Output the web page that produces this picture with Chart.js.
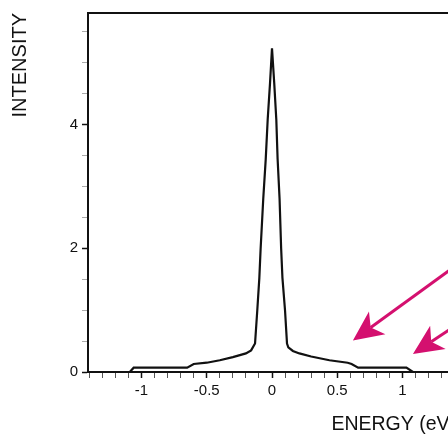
<!DOCTYPE html>
<html>
<head>
<meta charset="utf-8">
<script src="https://cdn.jsdelivr.net/npm/chart.js@4/dist/chart.umd.min.js"></script>
<style>
  html, body { margin: 0; padding: 0; background: #fff; }
  #wrap { width: 448px; height: 436px; overflow: hidden; position: relative; }
  canvas { display: block; }
</style>
</head>
<body>
<div id="wrap"><canvas id="spectrum" width="470" height="436"></canvas></div>
<script>
// photoemission spectrum, energy in eV
var energy = [-1.09, -1.06, -0.80, -0.65, -0.60, -0.50, -0.40, -0.30, -0.20, -0.16, -0.13,
  -0.113, -0.097, -0.087, -0.067, -0.048, -0.033, -0.015, 0.0,
  0.017, 0.033, 0.043, 0.058, 0.07, 0.08, 0.10, 0.115,
  0.125, 0.16, 0.21, 0.30, 0.44, 0.58, 0.61, 0.66, 0.85, 1.03, 1.08];
var intensity = [0, 0.07, 0.07, 0.07, 0.13, 0.15, 0.19, 0.24, 0.30, 0.35, 0.46,
  0.99, 1.52, 2.0, 2.8, 3.44, 4.08, 4.67, 5.23,
  4.67, 4.08, 3.44, 2.8, 2.0, 1.52, 0.99, 0.46,
  0.40, 0.34, 0.30, 0.25, 0.19, 0.15, 0.13, 0.07, 0.07, 0.07, 0];

var xMajorTicks = [-1, -0.5, 0, 0.5, 1];
var yMajorTicks = [0, 2, 4];

// arrows pointing at the shoulders: [tipX, tipY, tailX, tailY]
var arrows = [
  [0.62, 0.51, 1.60, 2.01],
  [1.08, 0.29, 1.60, 1.02]
];

var points = energy.map(function(e, i) {
  return { x: e, y: intensity[i] };
});

function isMajor(list, v) {
  return list.some(function(m) { return Math.abs(m - v) < 1e-6; });
}

var font = "'Liberation Sans', Arial, Helvetica, sans-serif";

var framePlugin = {
  id: 'frame',
  afterDraw: function(chart) {
    var ctx = chart.ctx;
    var area = chart.chartArea;
    var xs = chart.scales.x, ys = chart.scales.y;
    ctx.save();
    // top frame line
    ctx.strokeStyle = '#111';
    ctx.lineWidth = 2;
    ctx.beginPath();
    ctx.moveTo(area.left - 1, area.top);
    ctx.lineTo(chart.width, area.top);
    ctx.stroke();

    // magenta arrows
    ctx.strokeStyle = '#d4106f';
    ctx.fillStyle = '#d4106f';
    ctx.lineWidth = 3;
    arrows.forEach(function(a) {
      var tx = xs.getPixelForValue(a[0]), ty = ys.getPixelForValue(a[1]);
      var sx = xs.getPixelForValue(a[2]), sy = ys.getPixelForValue(a[3]);
      var ang = Math.atan2(ty - sy, tx - sx);
      var headLen = 30, headW = 14, notch = 22;
      var bx = tx - Math.cos(ang) * notch, by = ty - Math.sin(ang) * notch;
      ctx.beginPath();
      ctx.moveTo(sx, sy);
      ctx.lineTo(bx, by);
      ctx.stroke();
      var cx = tx - Math.cos(ang) * headLen, cy = ty - Math.sin(ang) * headLen;
      var px = -Math.sin(ang) * headW, py = Math.cos(ang) * headW;
      ctx.beginPath();
      ctx.moveTo(tx, ty);
      ctx.lineTo(cx + px, cy + py);
      ctx.lineTo(bx, by);
      ctx.lineTo(cx - px, cy - py);
      ctx.closePath();
      ctx.fill();
    });
    ctx.restore();
  }
};

new Chart(document.getElementById('spectrum'), {
  type: 'line',
  data: {
    datasets: [{
      data: points,
      borderColor: '#111',
      borderWidth: 2.2,
      pointRadius: 0,
      tension: 0,
      fill: false
    }]
  },
  options: {
    responsive: false,
    animation: false,
    layout: { padding: { left: 0, right: 14, top: 8, bottom: 0 } },
    plugins: { legend: { display: false }, tooltip: { enabled: false } },
    scales: {
      x: {
        type: 'linear',
        min: -1.41,
        max: 1.41,
        border: { display: true, color: '#111', width: 2 },
        grid: {
          drawOnChartArea: false,
          drawTicks: true,
          tickLength: 6,
          tickColor: function(c) { return isMajor(xMajorTicks, c.tick.value) ? '#111' : '#555'; },
          tickWidth: function(c) { return isMajor(xMajorTicks, c.tick.value) ? 1.5 : 1; }
        },
        ticks: {
          stepSize: 0.1,
          autoSkip: false,
          maxRotation: 0,
          includeBounds: false,
          padding: 4,
          color: '#111',
          font: { family: font, size: 15 },
          callback: function(v) {
            if (!isMajor(xMajorTicks, v)) return '';
            return String(Math.round(v * 10) / 10);
          }
        },
        title: {
          display: true,
          text: 'ENERGY (eV)',
          align: 'end',
          color: '#111',
          padding: { top: 0, bottom: 0 },
          font: { family: font, size: 19.5 }
        },
        afterFit: function(scale) { scale.height = 64; }
      },
      y: {
        type: 'linear',
        min: 0,
        max: 5.8,
        border: { display: true, color: '#111', width: 2 },
        grid: {
          drawOnChartArea: false,
          drawTicks: true,
          tickLength: 6,
          tickColor: function(c) { return isMajor(yMajorTicks, c.tick.value) ? '#111' : '#aaa'; },
          tickWidth: function(c) { return isMajor(yMajorTicks, c.tick.value) ? 1.5 : 1; }
        },
        ticks: {
          stepSize: 0.5,
          autoSkip: false,
          includeBounds: false,
          padding: 4,
          color: '#111',
          font: { family: font, size: 15 },
          callback: function(v) {
            return isMajor(yMajorTicks, v) ? String(v) : '';
          }
        },
        title: {
          display: true,
          text: 'INTENSITY',
          align: 'end',
          color: '#111',
          padding: { top: 8, bottom: 0 },
          font: { family: font, size: 20 }
        },
        afterFit: function(scale) { scale.width = 88; }
      }
    }
  },
  plugins: [framePlugin]
});
</script>
</body>
</html>
